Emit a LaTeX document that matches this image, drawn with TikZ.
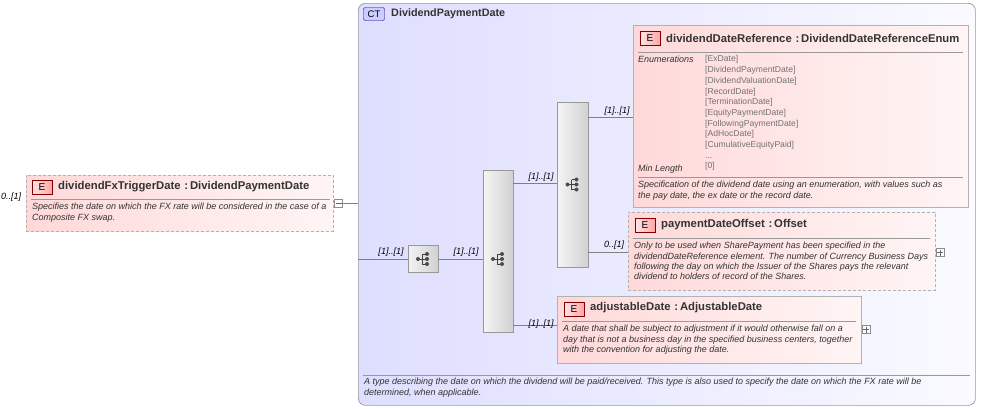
\documentclass[tikz,border=0pt]{standalone}
\usepackage{fontspec}
\setmainfont{Liberation Sans}
\begin{document}
\begin{tikzpicture}[x=1pt,y=-1pt,
  font=\fontsize{9}{10}\selectfont,
  elem/.style={draw=black!30, left color=red!15, right color=red!4, line width=0.8pt},
  opt/.style={elem, dash pattern=on 3pt off 2pt},
  badge/.style={draw=red!50!black, left color=red!10, right color=red!35, minimum width=20pt, minimum height=14pt, inner sep=0pt, font=\fontsize{10}{11}\selectfont},
  ttl/.style={anchor=west, font=\fontsize{11.3}{12}\selectfont\bfseries, text=black!80, inner sep=0pt},
  dsc/.style={anchor=north west, font=\fontsize{9}{10.3}\selectfont\itshape, text=black!80, inner sep=0pt, align=left},
  card/.style={font=\fontsize{9}{10}\selectfont\itshape, inner sep=0pt, anchor=south},
  bar/.style={draw=black!40, left color=black!4, right color=black!18},
  ln/.style={draw=black!50, line width=0.5pt},
  pm/.style={draw=black!45, fill=white, minimum size=8pt, inner sep=0pt},
  dot/.style={fill=black!70, circle, inner sep=0pt, minimum size=4pt}]
\useasboundingbox (0,0) rectangle (981,408);
% container
\node[draw=black!40, rounded corners=7pt, left color=blue!13, right color=blue!2, minimum width=617pt, minimum height=402pt, anchor=north west, inner sep=0pt, line width=0.7pt] (ct) at (358,3) {};
\node[draw=blue!50!black, fill=blue!20, rounded corners=2pt, minimum width=21pt, minimum height=13pt, inner sep=0pt, font=\fontsize{9.5}{10}\selectfont] (ctb) at (374,14) {CT};
\node[ttl, font=\fontsize{10.8}{12}\selectfont\bfseries] (ctt) at (391,14) {DividendPaymentDate};
\draw[black!40] (363,375) -- (970,375);
\node[dsc] (ctd) at (364,378) {A type describing the date on which the dividend will be paid/received. This type is also used to specify the date on which the FX rate will be\\determined, when applicable.};
% left element
\node[opt, minimum width=307pt, minimum height=56pt, anchor=north west, inner sep=0pt] (e1) at (26,175) {};
\node[badge] (e1b) at (42,187) {E};
\node[ttl] (e1t) at (58,187) {dividendFxTriggerDate\,\,:\,DividendPaymentDate};
\draw[black!40] (31,199) -- (330,199);
\node[dsc] (e1d) at (32,203) {Specifies the date on which the FX rate will be considered in the case of a\\Composite FX swap.};
\node[card, anchor=west] (c0) at (1,197) {0..[1]};
\node[pm] (m1) at (338.5,203.5) {};
\draw[black!60] (335.5,203.5) -- (341.5,203.5);
\draw[ln] (m1.east) -- (ct.west |- m1);
% sequence
\coordinate (in1) at (358,259);
\node[draw=black!40, left color=black!5, right color=black!18, minimum width=30pt, minimum height=27pt, inner sep=0pt] (seq) at (423,259) {};
\draw[ln] (in1) -- (seq.west);
\node[card] at (391,257) {[1]..[1]};
\node[bar, minimum width=30pt, minimum height=162pt, inner sep=0pt] (ch1) at (498,251) {};
\draw[ln] (seq.east) -- (ch1.west |- seq.east);
\node[card] at (466,257) {[1]..[1]};
\node[bar, minimum width=31pt, minimum height=165pt, inner sep=0pt] (ch2) at (572.5,184.5) {};
\draw[ln] (ch1.east |- 0,183) -- (ch2.west |- 0,183);
\node[card] at (541,182) {[1]..[1]};
% icons
\foreach \cx/\cy in {423/259, 498/259, 572.5/184.5}{
  \draw[black!75, line width=0.8pt] (\cx-5,\cy) -- (\cx-1,\cy) (\cx-1,\cy-5) -- (\cx-1,\cy+5);
  \node[dot] at (\cx-5,\cy) {};
  \foreach \dy in {-5,0,5}{\draw[black!75, line width=0.8pt] (\cx-1,\cy+\dy) -- (\cx+3,\cy+\dy); \node[dot] at (\cx+4,\cy+\dy) {};}
}
% dividendDateReference
\node[elem, minimum width=335pt, minimum height=182pt, anchor=north west, inner sep=0pt] (e2) at (633,25) {};
\draw[ln] (ch2.east |- 0,117) -- (e2.west |- 0,117);
\node[card] at (617,116) {[1]..[1]};
\node[badge] (e2b) at (650,38.5) {E};
\node[ttl] (e2t) at (666,38) {dividendDateReference\,\,:\,DividendDateReferenceEnum};
\draw[black!40] (638,52) -- (963,52);
\node[dsc] (e2k) at (638,55.5) {Enumerations};
\node[dsc, font=\fontsize{8.6}{10.7}\selectfont, text=black!55] (e2v) at (705,55.5) {{[ExDate]}\\{[DividendPaymentDate]}\\{[DividendValuationDate]}\\{[RecordDate]}\\{[TerminationDate]}\\{[EquityPaymentDate]}\\{[FollowingPaymentDate]}\\{[AdHocDate]}\\{[CumulativeEquityPaid]}\\...\\{[0]}};
\node[dsc] (e2m) at (638,164.5) {Min Length};
\draw[black!40] (638,177) -- (963,177);
\node[dsc] (e2d) at (638,181) {Specification of the dividend date using an enumeration, with values such as\\the pay date, the ex date or the record date.};
% paymentDateOffset
\node[opt, minimum width=307pt, minimum height=78pt, anchor=north west, inner sep=0pt] (e3) at (628,212) {};
\draw[ln] (ch2.east |- 0,252) -- (e3.west |- 0,252);
\node[card] at (614,250) {0..[1]};
\node[badge] (e3b) at (645,225) {E};
\node[ttl] (e3t) at (661,225) {paymentDateOffset\,\,:\,Offset};
\draw[black!40] (633,238) -- (930,238);
\node[dsc] (e3d) at (634,242) {Only to be used when SharePayment has been specified in the\\dividendDateReference element. The number of Currency Business Days\\following the day on which the Issuer of the Shares pays the relevant\\dividend to holders of record of the Shares.};
\node[pm] (p3) at (940,252.5) {};
\draw[black!60] (937,252.5) -- (943,252.5) (940,249.5) -- (940,255.5);
% adjustableDate
\node[elem, minimum width=304pt, minimum height=67pt, anchor=north west, inner sep=0pt] (e4) at (557,296) {};
\draw[ln] (ch1.east |- 0,325) -- (e4.west |- 0,325);
\node[card] at (541,329) {[1]..[1]};
\node[badge] (e4b) at (574,309) {E};
\node[ttl] (e4t) at (590,308) {adjustableDate\,\,:\,AdjustableDate};
\draw[black!40] (562,321) -- (856,321);
\node[dsc] (e4d) at (563,325) {A date that shall be subject to adjustment if it would otherwise fall on a\\day that is not a business day in the specified business centers, together\\with the convention for adjusting the date.};
\node[pm] (p4) at (866,329.5) {};
\draw[black!60] (863,329.5) -- (869,329.5) (866,326.5) -- (866,332.5);
\end{tikzpicture}
\end{document}
